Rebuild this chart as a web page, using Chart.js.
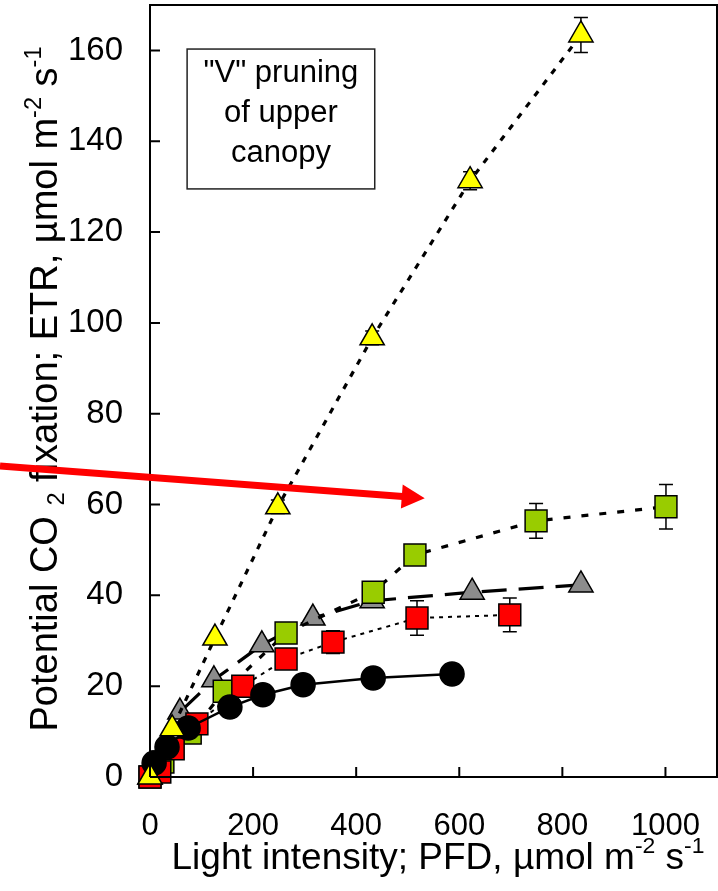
<!DOCTYPE html>
<html><head><meta charset="utf-8">
<script src="https://cdn.jsdelivr.net/npm/chart.js@4/dist/chart.umd.min.js"></script>
<style>html,body{margin:0;padding:0;background:#fff}#wrap{width:718px;height:891px;position:relative}canvas{display:block}</style>
</head><body><div id="wrap"><canvas id="c" width="718" height="891"></canvas></div>
<script>
// ---- data ----
const xTickValues = [0, 200, 400, 600, 800, 1000];
const yTickValues = [0, 20, 40, 60, 80, 100, 120, 140, 160];

const yellowX = [0, 43, 126, 248, 431, 621, 836];
const yellowY = [0, 10.6, 30.6, 59.5, 96.7, 131.3, 163.4];
const yellowErr = [0, 0, 0, 1.5, 1.5, 2, 3.85];

const blackX = [8, 33, 74, 155, 219, 297, 433, 586];
const blackY = [3.1, 6.6, 10.8, 15.4, 18.1, 20.3, 21.8, 22.7];
const blackErr = [0, 0, 0, 0, 0, 0, 0, 0];

const redX = [0, 19, 45, 91, 180, 264, 355, 518, 698];
const redY = [0, 1.1, 6.2, 11.7, 20, 26, 29.7, 35, 35.7];
const redErr = [0, 0, 0, 0, 0, 0, 2.5, 3.8, 3.7];

const greenX = [0, 25, 78, 144, 264, 433, 514, 749, 1001];
const greenY = [0, 3.3, 9.7, 18.9, 31.7, 40.7, 48.9, 56.4, 59.5];
const greenErr = [0, 0, 0, 0, 0, 0, 0, 3.8, 4.9];

const greyX = [0, 58, 124, 217, 316, 431, 625, 836];
const greyY = [0, 14.3, 21.4, 29.1, 35, 38.8, 40.7, 42.3];
const greyErr = [0, 0, 0, 0, 0, 0, 0, 0];

const boxLines = ['"V" pruning', 'of upper', 'canopy'];
const xTitleParts = [['Light intensity; PFD, µmol m', 'n'], ['-2', 'sup'], [' s', 'n'], ['-1', 'sup']];
const yTitleParts = [['Potential CO ', 'n'], ['2', 'sub'], [' fixation; ETR, µmol m', 'n'], ['-2', 'sup'], [' s', 'n'], ['-1', 'sup']];

// annotation geometry in data units
const noteBox = { x0: 72, x1: 436, y0: 129.5, y1: 160.3 };
const arrowLine = { x0: -291, y0: 68.5, x1: 533, y1: 61.4 };

const FONT = '"Liberation Sans", Arial, Helvetica, sans-serif';
const XTICK_SIZE = 31, YTICK_SIZE = 33, TITLE_SIZE = 37, YTITLE_SIZE = 38, BOX_SIZE = 31;

function pts(xs, ys) { return xs.map((x, i) => ({ x: x, y: ys[i] })); }

const series = [
  { label: 'yellow', xs: yellowX, ys: yellowY, err: yellowErr, style: 'triangle', r: 14, fill: '#FFFF00', dash: [6, 8], lw: 3.2 },
  { label: 'black', xs: blackX, ys: blackY, err: blackErr, style: 'circle', r: 12, fill: '#000000', dash: [], lw: 2.5 },
  { label: 'red', xs: redX, ys: redY, err: redErr, style: 'rect', r: 15.5, fill: '#FF0000', dash: [4, 5], lw: 2 },
  { label: 'green', xs: greenX, ys: greenY, err: greenErr, style: 'rect', r: 15.5, fill: '#99CC00', dash: [7, 11], lw: 3.2 },
  { label: 'grey', xs: greyX, ys: greyY, err: greyErr, style: 'triangle', r: 14, fill: '#8C8C8C', dash: [25, 12], lw: 3.2 }
];

const datasets = series.map(s => ({
  label: s.label,
  data: pts(s.xs, s.ys),
  showLine: true,
  borderColor: '#000',
  borderWidth: s.lw,
  borderDash: s.dash,
  pointStyle: s.style,
  pointRadius: s.r,
  pointHoverRadius: s.r,
  pointBackgroundColor: s.fill,
  pointBorderColor: '#000',
  pointBorderWidth: 1.5,
  tension: 0,
  clip: false,
  fill: false
}));

function drawRich(ctx, parts, cx, baseY, size) {
  const small = size * 0.62;
  const items = parts.map(([t, k]) => {
    const s = k === 'n' ? size : small;
    ctx.font = s + 'px ' + FONT;
    return { t, k, s, w: ctx.measureText(t).width };
  });
  const total = items.reduce((a, b) => a + b.w, 0);
  let x = cx - total / 2;
  ctx.textAlign = 'left';
  ctx.textBaseline = 'alphabetic';
  ctx.fillStyle = '#000';
  for (const it of items) {
    ctx.font = it.s + 'px ' + FONT;
    const dy = it.k === 'sup' ? -size * 0.42 : it.k === 'sub' ? size * 0.18 : 0;
    ctx.fillText(it.t, x, baseY + dy);
    x += it.w;
  }
}

function noPad(s) { s.paddingTop = 0; s.paddingBottom = 0; s.paddingLeft = 0; s.paddingRight = 0; }

const extras = {
  id: 'extras',
  beforeDatasetsDraw(chart) {
    const ctx = chart.ctx, xs = chart.scales.x, ys = chart.scales.y;
    ctx.save();
    ctx.strokeStyle = '#000';
    ctx.lineWidth = 1.5;
    series.forEach(s => {
      s.xs.forEach((xv, i) => {
        const e = s.err[i];
        if (!e) return;
        const px = xs.getPixelForValue(xv);
        const top = ys.getPixelForValue(s.ys[i] + e);
        const bot = ys.getPixelForValue(s.ys[i] - e);
        ctx.beginPath();
        ctx.moveTo(px, top); ctx.lineTo(px, bot);
        ctx.moveTo(px - 7, top); ctx.lineTo(px + 7, top);
        ctx.moveTo(px - 7, bot); ctx.lineTo(px + 7, bot);
        ctx.stroke();
      });
    });
    ctx.restore();
  },
  afterDraw(chart) {
    const ctx = chart.ctx, xs = chart.scales.x, ys = chart.scales.y, a = chart.chartArea;
    ctx.save();
    // frame
    ctx.strokeStyle = '#000';
    ctx.lineWidth = 2;
    ctx.beginPath();
    ctx.moveTo(a.left, a.bottom); ctx.lineTo(a.left, a.top); ctx.lineTo(a.right, a.top); ctx.lineTo(a.right, a.bottom); ctx.lineTo(a.left, a.bottom);
    ctx.stroke();
    // inward ticks
    ctx.beginPath();
    yTickValues.forEach(v => { if (v === 0) return; const p = ys.getPixelForValue(v); ctx.moveTo(a.left, p); ctx.lineTo(a.left + 10, p); });
    xTickValues.forEach(v => { if (v === 0) return; const p = xs.getPixelForValue(v); ctx.moveTo(p, a.bottom); ctx.lineTo(p, a.bottom - 10); });
    ctx.stroke();
    // note box
    const bx0 = xs.getPixelForValue(noteBox.x0), bx1 = xs.getPixelForValue(noteBox.x1);
    const by0 = ys.getPixelForValue(noteBox.y1), by1 = ys.getPixelForValue(noteBox.y0);
    ctx.lineWidth = 1.5;
    ctx.strokeStyle = '#222';
    ctx.strokeRect(bx0, by0, bx1 - bx0, by1 - by0);
    ctx.fillStyle = '#000';
    ctx.font = BOX_SIZE + 'px ' + FONT;
    ctx.textAlign = 'center';
    ctx.textBaseline = 'alphabetic';
    const cx = (bx0 + bx1) / 2;
    boxLines.forEach((t, i) => ctx.fillText(t, cx, by0 + 33 + i * 40));
    // titles
    drawRich(ctx, xTitleParts, 438, 869, TITLE_SIZE);
    ctx.save();
    ctx.translate(57, 389);
    ctx.rotate(-Math.PI / 2);
    drawRich(ctx, yTitleParts, 0, 0, YTITLE_SIZE);
    ctx.restore();
    // red arrow
    const ax0 = xs.getPixelForValue(arrowLine.x0), ay0 = ys.getPixelForValue(arrowLine.y0);
    const ax1 = xs.getPixelForValue(arrowLine.x1), ay1 = ys.getPixelForValue(arrowLine.y1);
    const ang = Math.atan2(ay1 - ay0, ax1 - ax0);
    const headL = 23, headW = 12;
    const bxh = ax1 - headL * Math.cos(ang), byh = ay1 - headL * Math.sin(ang);
    ctx.strokeStyle = '#FF0000';
    ctx.fillStyle = '#FF0000';
    ctx.lineWidth = 7;
    ctx.lineCap = 'butt';
    ctx.beginPath();
    ctx.moveTo(ax0, ay0); ctx.lineTo(bxh + Math.cos(ang), byh + Math.sin(ang));
    ctx.stroke();
    ctx.beginPath();
    ctx.moveTo(ax1, ay1);
    ctx.lineTo(bxh - headW * Math.sin(ang), byh + headW * Math.cos(ang));
    ctx.lineTo(bxh + headW * Math.sin(ang), byh - headW * Math.cos(ang));
    ctx.closePath();
    ctx.fill();
    ctx.restore();
  }
};

new Chart(document.getElementById('c'), {
  type: 'scatter',
  data: { datasets },
  options: {
    responsive: false,
    devicePixelRatio: 1,
    animation: false,
    layout: { padding: { top: 5, right: 1, left: 0, bottom: 0 }, autoPadding: false },
    plugins: { legend: { display: false }, tooltip: { enabled: false } },
    scales: {
      x: {
        type: 'linear', min: 0, max: 1100,
        afterFit(s) { s.height = 114; noPad(s); },
        afterBuildTicks(s) { s.ticks = xTickValues.map(v => ({ value: v })); },
        ticks: { padding: 31, color: '#000', font: { family: FONT, size: XTICK_SIZE }, maxRotation: 0, autoSkip: false, callback: v => String(v) },
        grid: { display: false, drawTicks: false },
        border: { display: true, color: '#000', width: 2 }
      },
      y: {
        type: 'linear', min: 0, max: 170,
        afterFit(s) { s.width = 150; noPad(s); },
        afterBuildTicks(s) { s.ticks = yTickValues.map(v => ({ value: v })); },
        ticks: { padding: 27, color: '#000', font: { family: FONT, size: YTICK_SIZE }, autoSkip: false, callback: v => String(v) },
        grid: { display: false, drawTicks: false },
        border: { display: true, color: '#000', width: 2 }
      }
    }
  },
  plugins: [extras]
});
</script>
</body></html>
